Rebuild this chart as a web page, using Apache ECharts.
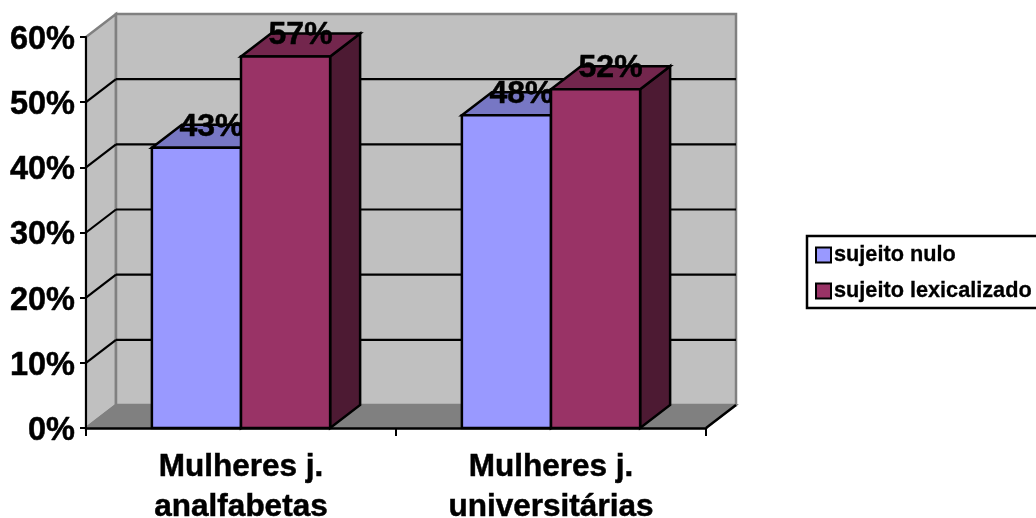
<!DOCTYPE html>
<html><head><meta charset="utf-8">
<style>html,body{margin:0;padding:0;background:#fff}#c{width:1036px;height:518px}</style>
<script src="https://cdn.jsdelivr.net/npm/echarts@6/dist/echarts.min.js"></script>
</head><body><div id="c"></div>
<script>
const categories = ['Mulheres j.\nanalfabetas', 'Mulheres j.\nuniversitárias'];
const seriesNames = ['sujeito nulo', 'sujeito lexicalizado'];
const sujeitoNulo = [43, 48];
const sujeitoLexicalizado = [57, 52];
const yTicks = [0, 10, 20, 30, 40, 50, 60];

const FONT = '"Liberation Sans", Arial, sans-serif';
const DX = 30, DY = -23;
const BLACK = '#000', GRID_EDGE = '#808080';
const HEAVY = { textBorderColor: BLACK, textBorderWidth: 0.5 };

function face(points, fill, stroke, lw) {
  return { type: 'polygon', shape: { points }, style: { fill, stroke, lineWidth: lw, lineJoin: 'miter' } };
}
function line(x1, y1, x2, y2, stroke, lw) {
  return { type: 'line', shape: { x1, y1, x2, y2 }, style: { stroke, lineWidth: lw } };
}

function renderWalls(params, api) {
  const band = api.size([1, 0])[0];
  const left = api.coord([0, 0])[0] - band / 2;
  const right = api.coord([1, 0])[0] + band / 2;
  const y0 = api.coord([0, 0])[1];
  const yTop = api.coord([0, yTicks[yTicks.length - 1]])[1];
  const kids = [
    face([[left, yTop], [left + DX, yTop + DY], [left + DX, y0 + DY], [left, y0]], '#C0C0C0', GRID_EDGE, 2.5),
    face([[left + DX, yTop + DY], [right + DX, yTop + DY], [right + DX, y0 + DY], [left + DX, y0 + DY]], '#C0C0C0', GRID_EDGE, 2.5),
    face([[left, y0], [left + DX, y0 + DY], [right + DX, y0 + DY], [right, y0]], '#808080', GRID_EDGE, 2)
  ];
  yTicks.slice(1, -1).forEach(t => {
    const y = api.coord([0, t])[1];
    kids.push(line(left, y, left + DX, y + DY, BLACK, 2.2));
    kids.push(line(left + DX, y + DY, right + DX, y + DY, BLACK, 2.2));
  });
  kids.push(line(right, y0, right + DX, y0 + DY, BLACK, 2.5));
  return { type: 'group', children: kids };
}

function barRenderer(offsetBars, front, top, side) {
  return function (params, api) {
    const band = api.size([1, 0])[0];
    const w = band * 0.2875;
    const p = api.coord([api.value(0), api.value(1)]);
    const base = api.coord([api.value(0), 0]);
    const x0 = p[0] + offsetBars * w, x1 = x0 + w, yt = p[1], yb = base[1];
    return {
      type: 'group',
      children: [
        face([[x1, yt], [x1 + DX, yt + DY], [x1 + DX, yb + DY], [x1, yb]], side, BLACK, 2.5),
        face([[x0, yt], [x0 + DX, yt + DY], [x1 + DX, yt + DY], [x1, yt]], top, BLACK, 2.5),
        face([[x0, yt], [x1, yt], [x1, yb], [x0, yb]], front, BLACK, 2.5),
        { type: 'text', style: Object.assign({
            x: (x0 + x1) / 2 + DX / 2, y: yt + DY + 2,
            text: api.value(1) + '%',
            fill: BLACK, font: 'bold 32px ' + FONT, align: 'center', verticalAlign: 'middle' },
            { stroke: BLACK, lineWidth: 0.5 }) }
      ]
    };
  };
}

const colors = [
  { front: '#9999FF', top: '#7777C4', side: '#4D4D80' },
  { front: '#993366', top: '#73264D', side: '#4D1A33' }
];

const chart = echarts.init(document.getElementById('c'), null, { renderer: 'canvas' });
chart.setOption({
  animation: false,
  backgroundColor: '#fff',
  grid: { left: 86, width: 620, top: 37, height: 391, outerBoundsMode: 'none' },
  legend: {
    left: 807, top: 236, orient: 'vertical', align: 'left',
    data: seriesNames, icon: 'rect', itemWidth: 15, itemHeight: 15, itemGap: 12,
    borderColor: BLACK, borderWidth: 2.5, padding: [7, 8, 5, 8],
    selectedMode: false,
    textStyle: { fontFamily: FONT, fontWeight: 'bold', fontSize: 21.7, color: BLACK, lineHeight: 24, padding: [0, 0, 0, -2], textBorderColor: BLACK, textBorderWidth: 0.3 }
  },
  xAxis: {
    type: 'category', data: categories, z: 10,
    axisLine: { lineStyle: { color: BLACK, width: 2.5 } },
    axisTick: { show: true, length: 8, alignWithLabel: false, lineStyle: { color: BLACK, width: 2 } },
    axisLabel: Object.assign({ fontFamily: FONT, fontWeight: 'bold', fontSize: 31.5, color: BLACK, lineHeight: 40, margin: 19, interval: 0 }, HEAVY)
  },
  yAxis: {
    type: 'value', min: 0, max: 60, interval: 10, z: 10,
    axisLine: { show: true, lineStyle: { color: BLACK, width: 2 } },
    axisTick: { show: true, length: 6, lineStyle: { color: BLACK, width: 2 } },
    splitLine: { show: false },
    axisLabel: Object.assign({ formatter: '{value}%', fontFamily: FONT, fontWeight: 'bold', fontSize: 32.5, color: BLACK, margin: 11, verticalAlign: 'top', lineHeight: 6 }, HEAVY)
  },
  series: [
    { type: 'custom', name: 'walls', z: 1, silent: true, clip: false,
      data: [[0, 0]], encode: { x: 0, y: 1 }, renderItem: renderWalls },
    { type: 'custom', name: seriesNames[0], z: 2, clip: false,
      itemStyle: { color: colors[0].front, borderColor: BLACK, borderWidth: 2 },
      data: sujeitoNulo.map((v, i) => [i, v]), encode: { x: 0, y: 1 },
      renderItem: barRenderer(-1, colors[0].front, colors[0].top, colors[0].side) },
    { type: 'custom', name: seriesNames[1], z: 3, clip: false,
      itemStyle: { color: colors[1].front, borderColor: BLACK, borderWidth: 2 },
      data: sujeitoLexicalizado.map((v, i) => [i, v]), encode: { x: 0, y: 1 },
      renderItem: barRenderer(0, colors[1].front, colors[1].top, colors[1].side) }
  ]
});
</script></body></html>
